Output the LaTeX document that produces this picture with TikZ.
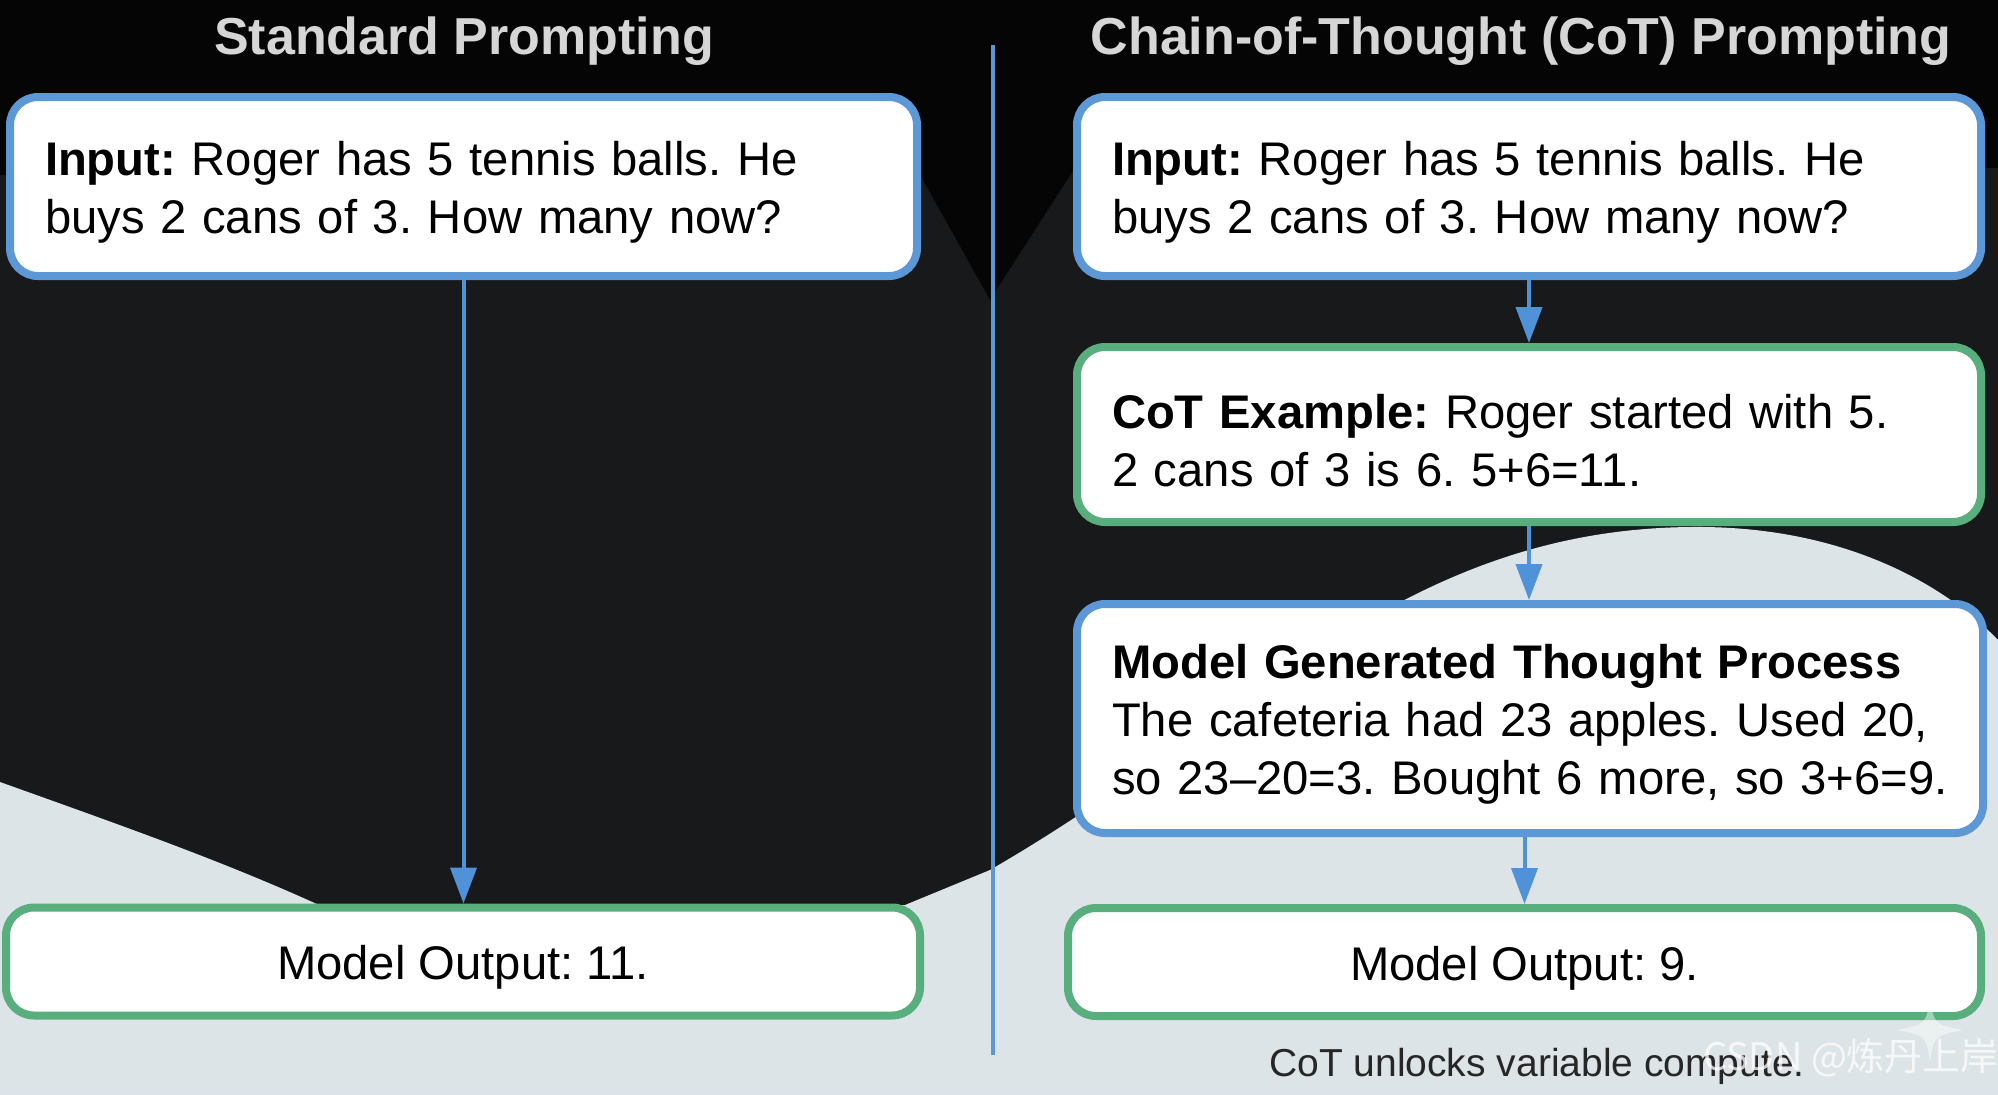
\documentclass[tikz,border=0pt]{standalone}
\usepackage{fontspec}
\setmainfont{Liberation Sans}
\newfontfamily\cjkfont{Noto Sans CJK SC}
\usetikzlibrary{arrows.meta}
\frenchspacing
\newcommand{\firstup}{\rule{0pt}{23pt}}
\definecolor{bgblack}{HTML}{050505}
\definecolor{bgdark}{HTML}{17191B}
\definecolor{bglight}{HTML}{DCE4E7}
\definecolor{boxblue}{HTML}{5C98D6}
\definecolor{boxgreen}{HTML}{58AE7C}
\definecolor{arrowblue}{HTML}{4F92DA}
\definecolor{titlegrey}{HTML}{D6D6D6}
\begin{document}
\begin{tikzpicture}[x=0.5pt,y=-0.5pt,
  box/.style={draw, line width=4pt, rounded corners=14pt, fill=white, inner xsep=17.5pt, inner ysep=0pt, font=\fontsize{23.6}{29}\selectfont, text=black},
  textbox/.style={align=left},
  onebox/.style={align=center, text height=23pt, text depth=5pt},
  bluebox/.style={box, draw=boxblue},
  greenbox/.style={box, draw=boxgreen},
  titletext/.style={font=\fontsize{26}{31}\selectfont\bfseries, text=titlegrey},
  flow/.style={draw=arrowblue, line width=2pt, -{Triangle[length=18pt,width=13pt]}},
  divider/.style={draw=boxblue, line width=2.2pt},
]
\useasboundingbox (0,0) rectangle (1998,1094);
% background
\fill[bgblack] (0,0) rectangle (1998,1094);
\fill[bgdark] (0,175) -- (920,175) -- (990,300) -- (1075,168) -- (1998,168) -- (1998,1094) -- (0,1094) -- cycle;
\fill[bglight] (0,782) .. controls (120,825) and (220,860) .. (319,905) -- (905,905) -- (990,870)
  .. controls (1250,720) and (1400,530) .. (1690,527)
  .. controls (1850,525) and (1950,590) .. (1998,640) -- (1998,1094) -- (0,1094) -- cycle;

% titles
\node[titletext] (t1) at (464,41) {Standard Prompting};
\node[titletext] (t2) at (1521,41) {Chain-of-Thought (CoT) Prompting};

% divider
\coordinate (dtop) at (993,45);
\coordinate (dbot) at (993,1055);
\draw[divider] (dtop) -- (dbot);

% left column
\node[bluebox, textbox, minimum width=453.5pt, text width=418.5pt, minimum height=89.5pt] (inL) at (463.5,186.5)
  {\firstup\textbf{Input:} Roger has 5 tennis balls. He\\buys 2 cans of 3. How many now?};
\node[greenbox, onebox, minimum width=457pt, minimum height=54pt] (outL) at (463,961.5) {Model Output: 11.};

% right column
\node[bluebox, textbox, minimum width=452pt, text width=417pt, minimum height=89.5pt] (inR) at (1529,186.5)
  {\firstup\textbf{Input:} Roger has 5 tennis balls. He\\buys 2 cans of 3. How many now?};
\node[greenbox, textbox, minimum width=452pt, text width=417pt, minimum height=87.5pt] (cot) at (1529,434.5)
  {\firstup\textbf{CoT Example:} Roger started with 5.\\2 cans of 3 is 6. 5+6=11.};
\node[bluebox, textbox, minimum width=451pt, text width=418pt, minimum height=114.5pt] (thought) at (1530,718.5)
  {\firstup\textbf{Model Generated Thought Process}\\\mbox{The cafeteria had 23 apples. Used 20,}\\\mbox{so 23–20=3. Bought 6 more, so 3+6=9.}};
\node[greenbox, onebox, minimum width=456.5pt, minimum height=54pt] (outR) at (1524.5,962) {Model Output: 9.};

% connectors
\draw[flow] (inL.south) -- (inL.south |- outL.north);
\draw[flow] (inR.south) -- (cot.north);
\draw[flow] (cot.south) -- (cot.south |- thought.north);
\draw[flow] (outR.north |- thought.south) -- (outR.north);

% caption
\node[font=\fontsize{19.5}{23}\selectfont, text=black!85] (cap) at (1537,1066) {CoT unlocks variable compute.};

% watermark
\fill[white, opacity=0.45] (1930,998) .. controls (1934,1024) .. (1963,1030) .. controls (1934,1036) .. (1930,1062) .. controls (1926,1036) .. (1897,1030) .. controls (1926,1024) .. (1930,998) -- cycle;
\node[font=\cjkfont\fontsize{19}{23}\selectfont, text=white, opacity=0.75] (wm) at (1851,1058) {CSDN @炼丹上岸};
\end{tikzpicture}
\end{document}
